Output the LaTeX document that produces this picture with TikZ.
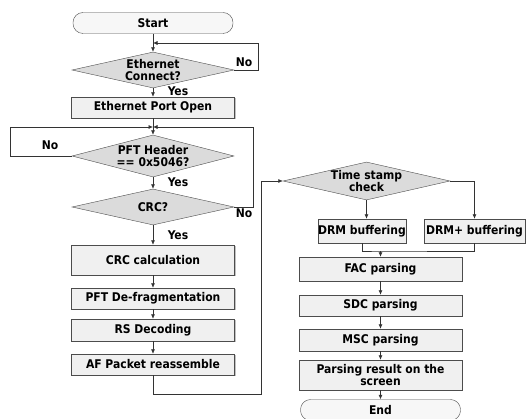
\documentclass[tikz,border=0pt]{standalone}
\usepackage{fontspec}
\setmainfont{DejaVu Sans Condensed}
\usetikzlibrary{arrows.meta,shapes.geometric,shadows}

\begin{document}
\begin{tikzpicture}[x=1pt,y=-1pt,font=\fontsize{12}{12.5}\selectfont\bfseries,
  proc/.style={rectangle,draw=gray!60!black,fill=gray!12,minimum width=163pt,minimum height=22pt,inner sep=0pt,align=center,drop shadow={shadow xshift=1pt,shadow yshift=-1pt,fill=gray!70,opacity=0.7}},
  term/.style={rectangle,rounded corners=10pt,draw=gray!60!black,fill=gray!6,minimum width=160pt,minimum height=21pt,inner sep=0pt},
  decide/.style={diamond,aspect=4.3,draw=gray!60!black,fill=gray!28,minimum width=162pt,minimum height=36pt,inner sep=-4pt,align=center},
  flow/.style={draw=black!80,line width=0.6pt,-{Latex[length=4.5pt,width=4pt]}},
  link/.style={draw=black!80,line width=0.6pt}]
\useasboundingbox (0,0) rectangle (526,419);
\node[term] (start) at (153,23) {Start};
\node[decide] (eth) at (153,70) {Ethernet\\Connect?};
\node[proc,minimum height=21pt] (port) at (153,107.5) {Ethernet Port Open};
\node[decide,minimum height=42pt] (pft) at (153,156) {PFT Header\\== 0x5046?};
\node[decide] (crc) at (153,207) {CRC?};
\node[proc,minimum height=30pt] (calc) at (153,260) {CRC calculation};
\node[proc,minimum height=21pt] (defrag) at (153,298.5) {PFT De-fragmentation};
\node[proc] (rs) at (153,330) {RS Decoding};
\node[proc,minimum height=21pt] (af) at (153,364.5) {AF Packet reassemble};
\node[decide,minimum width=167pt,minimum height=38pt] (ts) at (366.5,181) {Time stamp\\check};
\node[proc,minimum width=88pt,minimum height=24pt] (drm) at (362,231) {DRM buffering};
\node[proc,minimum width=101pt,minimum height=24pt] (drmp) at (474.5,231) {DRM+ buffering};
\node[proc,minimum height=24pt] (fac) at (380.5,269) {FAC parsing};
\node[proc,minimum height=21pt] (sdc) at (380.5,305.5) {SDC parsing};
\node[proc] (msc) at (380.5,340) {MSC parsing};
\node[proc,minimum height=30pt] (res) at (380.5,375) {Parsing result on the\\screen};
\node[term] (end) at (380.5,410) {End};
\coordinate (j1) at (153,43);
\coordinate (ethback) at (258,43);
\coordinate (j2) at (153,127);
\coordinate (pftback) at (10,127);
\coordinate (crcback) at (253,127);
\coordinate (afdown) at (261,394);
\coordinate (merge) at (380.5,251);
\draw[flow] (start) -- (eth);
\draw[flow] (eth.east) -| (ethback) -- (j1);
\draw[flow] (eth) -- (port);
\draw[flow] (port) -- (pft);
\draw[flow] (pft.west) -| (pftback) -- (j2);
\draw[flow] (crc.east) -| (crcback) -- (j2);
\draw[flow] (pft) -- (crc);
\draw[flow] (crc) -- (calc);
\draw[flow] (calc) -- (defrag);
\draw[flow] (defrag) -- (rs);
\draw[flow] (rs) -- (af);
\draw[flow] (af.south) |- (afdown) |- (ts.west);
\draw[flow] (ts.south) -- (ts.south |- drm.north);
\draw[flow] (ts.east) -| (drmp.north);
\draw[link] (drm.south) |- (merge) -| (drmp.south);
\draw[flow] (merge) -- (fac);
\draw[flow] (fac) -- (sdc);
\draw[flow] (sdc) -- (msc);
\draw[flow] (msc) -- (res);
\draw[flow] (res) -- (end);
\node (lno1) at (244,62) {No};
\node (lyes1) at (178,91) {Yes};
\node (lno2) at (50,145) {No};
\node (lyes2) at (178,182) {Yes};
\node (lno3) at (244,213) {No};
\node (lyes3) at (178,235) {Yes};
\end{tikzpicture}
\end{document}
